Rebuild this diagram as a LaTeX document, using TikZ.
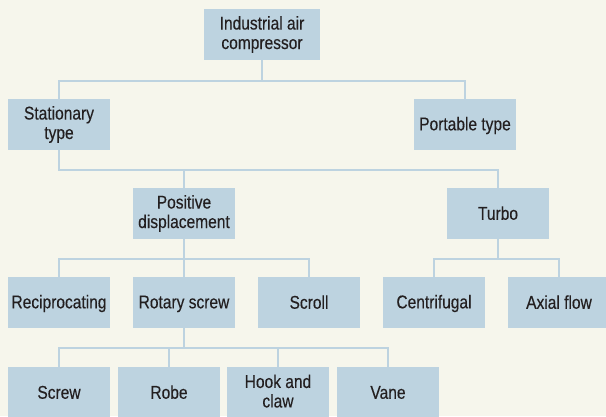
\documentclass[tikz,border=0pt]{standalone}
\usepackage{fontspec}
\setmainfont{Liberation Sans}[FakeStretch=0.84, FakeBold=0.3]
\definecolor{boxblue}{HTML}{BDD3E0}
\definecolor{paper}{HTML}{F6F6EC}
\definecolor{ink}{HTML}{231F20}
\newcommand\boxstrut{\rule[-3pt]{0pt}{18.5pt}}

\begin{document}
\begin{tikzpicture}[x=1pt, y=1pt, font=\fontsize{18.5}{19.5}\selectfont,
    box/.style={fill=boxblue, text=ink, minimum width=102pt, minimum height=51pt,
      inner sep=0pt, align=center,
      execute at begin node=\boxstrut, execute at end node=\boxstrut},
    link/.style={draw=boxblue, line width=2.5pt}]

  % page
  \fill[paper] (0,0) rectangle (606,416);
  \useasboundingbox (0,0) rectangle (606,416);

  % rows
  \def\rowA{381.5}
  \def\rowB{291.5}
  \def\rowC{202.5}
  \def\rowD{113.5}
  \def\rowE{23.5}

  \node[box, minimum width=116pt] (comp) at (262, \rowA) {Industrial air\\compressor};

  \node[box] (stat) at (59, \rowB) {Stationary\\type};
  \node[box] (port) at (465, \rowB) {Portable type};

  \node[box] (posdisp) at (184, \rowC) {Positive\\displacement};
  \node[box] (turbo) at (498, \rowC) {Turbo};

  \node[box] (recip) at (59, \rowD) {Reciprocating};
  \node[box] (rotary) at (184, \rowD) {Rotary screw};
  \node[box] (scroll) at (309, \rowD) {Scroll};
  \node[box] (centri) at (434, \rowD) {Centrifugal};
  \node[box] (axial) at (559, \rowD) {Axial flow};

  \node[box] (screw) at (59, \rowE) {Screw};
  \node[box] (robe) at (169, \rowE) {Robe};
  \node[box] (hook) at (278, \rowE) {Hook and\\claw};
  \node[box] (vane) at (388, \rowE) {Vane};

  % bus lines
  \coordinate (busA) at (0, 335);
  \coordinate (busB) at (0, 246);
  \coordinate (busC) at (0, 157);
  \coordinate (busD) at (0, 68);

  \draw[link] (comp.south) -- (comp |- busA);
  \draw[link] (stat.north) -- (stat |- busA) -- (port |- busA) -- (port.north);

  \draw[link] (stat.south) -- (stat |- busB) -- (turbo |- busB) -- (turbo.north);
  \draw[link] (posdisp.north) -- (posdisp |- busB);

  \draw[link] (posdisp.south) -- (posdisp |- busC);
  \draw[link] (recip.north) -- (recip |- busC) -- (scroll |- busC) -- (scroll.north);
  \draw[link] (rotary.north) -- (rotary |- busC);

  \draw[link] (turbo.south) -- (turbo |- busC);
  \draw[link] (centri.north) -- (centri |- busC) -- (axial |- busC) -- (axial.north);

  \draw[link] (rotary.south) -- (rotary |- busD);
  \draw[link] (screw.north) -- (screw |- busD) -- (vane |- busD) -- (vane.north);
  \foreach \n in {robe, hook}
    \draw[link] (\n.north) -- (\n |- busD);

\end{tikzpicture}
\end{document}
